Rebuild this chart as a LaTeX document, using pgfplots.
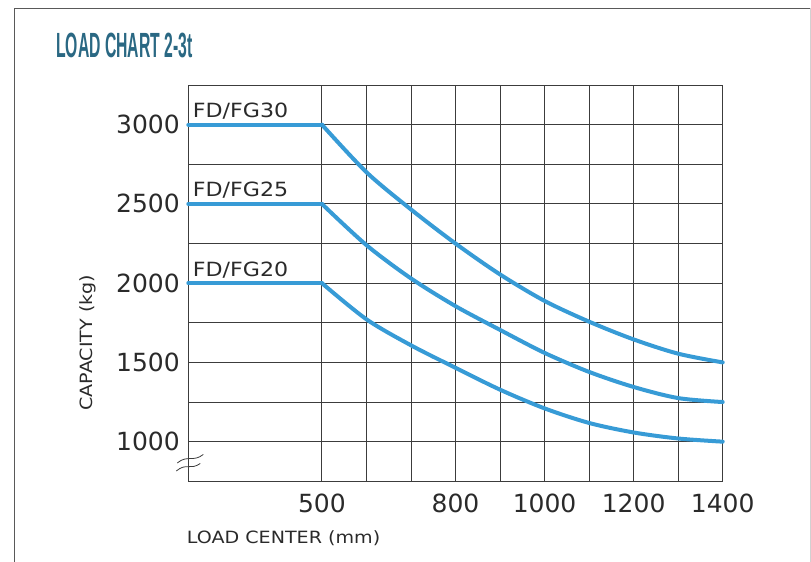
\documentclass[border=0pt]{standalone}
\usepackage{fontspec}
\usepackage{pgfplots}
\pgfplotsset{compat=1.18}
\setmainfont{DejaVu Sans}
\newfontfamily\tickfont{DejaVu Sans}
\newfontfamily\labfont[FakeStretch=1.13]{DejaVu Sans}
\newfontfamily\titlefont[FakeStretch=0.45]{Liberation Sans}
\definecolor{gridc}{HTML}{3C3C3C}
\definecolor{curvec}{HTML}{379BD6}
\definecolor{titlec}{HTML}{2A6883}
\definecolor{txtc}{HTML}{2A2A2A}
\tikzset{curve/.style={draw=curvec, line width=4pt, line cap=round, line join=round, mark=none}}
\begin{document}
\begin{tikzpicture}
\useasboundingbox (0,0) rectangle (811pt,562pt);
% outer frame
\draw[black!65, line width=0.9pt] (14pt,0pt) -- (14pt,554pt) -- (810pt,554pt);
\draw[black!18, line width=0.9pt] (810pt,554pt) -- (810pt,0pt);
% title
\node[anchor=base west, inner sep=0pt, text=titlec, font=\titlefont\bfseries\fontsize{35}{35}\selectfont] at (56pt,504.7pt) {LOAD CHART 2-3t};
% axis labels
\node[anchor=base west, inner sep=0pt, text=txtc, font=\labfont\fontsize{16.9}{16.9}\selectfont] at (186.7pt,18.7pt) {LOAD CENTER (mm)};
\node[rotate=90, anchor=center, inner sep=0pt, text=txtc, font=\labfont\fontsize{16.9}{16.9}\selectfont] at (87.5pt,219.5pt) {CAPACITY (kg)};
\begin{axis}[
  at={(188.3pt,80.7pt)}, anchor=south west,
  scale only axis, width=534.4pt, height=396.3pt,
  xmin=200, xmax=1400, ymin=750, ymax=3250,
  xtick={500,800,1000,1200,1400},
  minor xtick={600,700,900,1100,1300},
  ytick={1000,1500,2000,2500,3000},
  minor ytick={1250,1750,2250,2750},
  grid=both,
  major grid style={draw=gridc, line width=0.9pt},
  minor grid style={draw=gridc, line width=0.9pt},
  axis line style={draw=gridc, line width=0.9pt},
  major tick length=0pt, minor tick length=0pt,
  scaled ticks=false,
  /pgf/number format/assume math mode=true,
  /pgf/number format/1000 sep={},
  tick label style={font=\tickfont\fontsize{25}{25}\selectfont, text=txtc, inner sep=0pt},
  xticklabel style={yshift=-12.7pt},
  yticklabel style={xshift=-8.3pt},
  clip=false,
]
% FD/FG30
\addplot[curve] coordinates {(200,3000) (500,3000)};
\addplot[curve, smooth] coordinates {(500,3000) (600,2700) (700,2465) (800,2250) (900,2055) (1000,1888) (1100,1757) (1200,1645) (1300,1555) (1400,1500)};
% FD/FG25
\addplot[curve] coordinates {(200,2500) (500,2500)};
\addplot[curve, smooth] coordinates {(500,2500) (600,2240) (700,2030) (800,1855) (900,1705) (1000,1560) (1100,1440) (1200,1345) (1300,1275) (1400,1250)};
% FD/FG20
\addplot[curve] coordinates {(200,2000) (500,2000)};
\addplot[curve, smooth] coordinates {(500,2000) (600,1772) (700,1608) (800,1466) (900,1328) (1000,1210) (1100,1118) (1200,1058) (1300,1020) (1400,1000)};
% series labels
\node[anchor=base west, inner sep=0pt, text=txtc, font=\labfont\fontsize{19.6}{19.6}\selectfont, xshift=4.4pt, yshift=7pt] at (axis cs:200,3000) {FD/FG30};
\node[anchor=base west, inner sep=0pt, text=txtc, font=\labfont\fontsize{19.6}{19.6}\selectfont, xshift=4.4pt, yshift=7pt] at (axis cs:200,2500) {FD/FG25};
\node[anchor=base west, inner sep=0pt, text=txtc, font=\labfont\fontsize{19.6}{19.6}\selectfont, xshift=4.4pt, yshift=7pt] at (axis cs:200,2000) {FD/FG20};
% axis break mark
\begin{scope}[shift={(axis cs:200,875)}]
\draw[gridc, line width=0.8pt] (-11pt,-1.5pt) .. controls (-1pt,7pt) and (5pt,-1pt) .. (15pt,7pt);
\draw[gridc, line width=0.8pt] (-12pt,-9.5pt) .. controls (-2pt,-1pt) and (2pt,-9pt) .. (12pt,-2pt);
\end{scope}
\end{axis}
\end{tikzpicture}
\end{document}
